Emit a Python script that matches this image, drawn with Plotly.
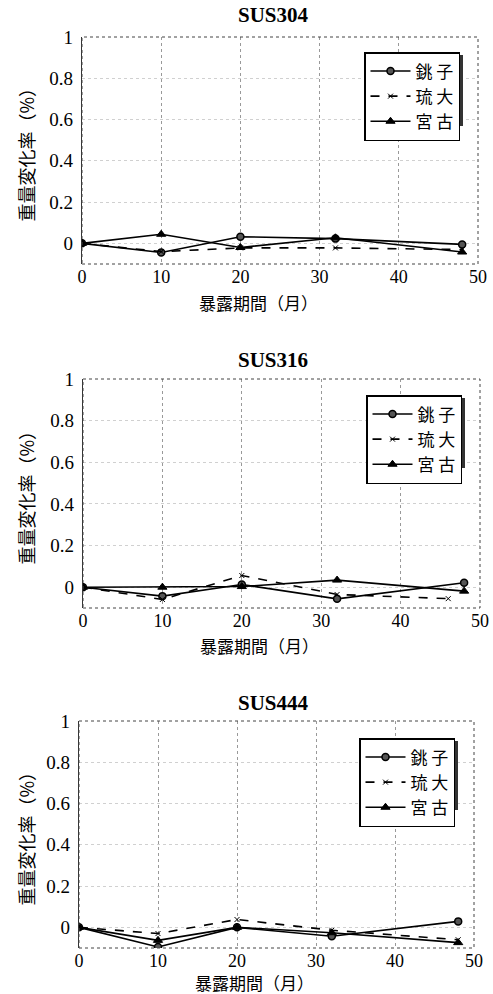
import plotly.graph_objects as go

W, H = 493, 994

months = [0, 10, 20, 32, 48]
months_316_ryudai = [0, 10, 20, 32, 46]

sus304_choshi = [0.0, -0.044, 0.032, 0.023, -0.005]
sus304_ryudai = [0.0, -0.040, -0.022, -0.022, -0.030]
sus304_miyako = [0.0, 0.044, -0.020, 0.027, -0.042]

sus316_choshi = [0.0, -0.043, 0.013, -0.056, 0.021]
sus316_ryudai = [0.0, -0.059, 0.056, -0.035, -0.055]
sus316_miyako = [0.0, 0.0, 0.003, 0.034, -0.019]

sus444_choshi = [0.0, -0.095, 0.0, -0.043, 0.029]
sus444_ryudai = [0.0, -0.030, 0.038, -0.014, -0.060]
sus444_miyako = [0.0, -0.063, 0.0, -0.026, -0.074]

titles = ["SUS304", "SUS316", "SUS444"]
series_names = ["銚 子", "琉 大", "宮 古"]
x_ticks = [0, 10, 20, 30, 40, 50]
y_ticks = [0, 0.2, 0.4, 0.6, 0.8, 1]
y_ticktext = ["0", "0.2", "0.4", "0.6", "0.8", "1"]
x_title = "暴露期間（月）"
y_title = "重量変化率（%）"

panels = [
    dict(x=[months, months, months], y=[sus304_choshi, sus304_ryudai, sus304_miyako],
         px=(82, 478), py=(37, 264), title_y=15, xt_y=302, legend=(460, 52, 362, 123)),
    dict(x=[months, months_316_ryudai, months], y=[sus316_choshi, sus316_ryudai, sus316_miyako],
         px=(83, 480), py=(379, 608), title_y=360, xt_y=645, legend=(462, 395, 363, 465)),
    dict(x=[months, months, months], y=[sus444_choshi, sus444_ryudai, sus444_miyako],
         px=(79, 474), py=(721, 948), title_y=703, xt_y=982, legend=(455, 738, 357, 807)),
]

SERIF = "Liberation Serif, Times New Roman, serif"
CJK = "Noto Sans CJK JP, Noto Sans, sans-serif"

styles = [
    dict(line=dict(color="black", width=1.6, dash="solid"),
         marker=dict(symbol="circle", size=7, color="#555", line=dict(color="black", width=1.5))),
    dict(line=dict(color="black", width=1.6, dash="dash"),
         marker=dict(symbol="x-thin-open", size=5, color="black", line=dict(color="black", width=1))),
    dict(line=dict(color="black", width=1.6, dash="solid"),
         marker=dict(symbol="triangle-up", size=8, color="black", line=dict(color="black", width=1))),
]

fig = go.Figure()
layout = dict(width=W, height=H, margin=dict(l=0, r=0, t=0, b=0, autoexpand=False),
              paper_bgcolor="white", plot_bgcolor="white", showlegend=True)
annotations = []
shapes = []

def fx(p):
    return p / W

def fy(p):
    return 1 - p / H

for i, pnl in enumerate(panels):
    n = "" if i == 0 else str(i + 1)
    xa, ya = "x" + n, "y" + n
    leg = "legend" + n
    for k in range(3):
        fig.add_trace(go.Scatter(
            x=pnl["x"][k], y=pnl["y"][k], name=series_names[k],
            mode="lines+markers", xaxis=xa, yaxis=ya, legend=leg,
            line=styles[k]["line"], marker=styles[k]["marker"]))
    x0, x1 = pnl["px"]
    y0, y1 = pnl["py"]
    layout["xaxis" + n] = dict(
        domain=[fx(x0), fx(x1)], range=[0, 50], anchor=ya, automargin=False,
        tickmode="array", tickvals=x_ticks, ticktext=[str(v) for v in x_ticks],
        tickfont=dict(family=SERIF, size=18, color="black"),
        showgrid=True, gridcolor="#999", griddash="dot", gridwidth=1,
        zeroline=False, showline=False, ticks="", ticklabelstandoff=0)
    layout["yaxis" + n] = dict(
        domain=[fy(y1), fy(y0)], range=[-0.1, 1.0], anchor=xa, automargin=False,
        tickmode="array", tickvals=y_ticks, ticktext=y_ticktext,
        tickfont=dict(family=SERIF, size=19, color="black"),
        showgrid=True, gridcolor="#d0d0d0", griddash="dot", gridwidth=1,
        zeroline=False, showline=True, linecolor="#333", linewidth=1.2,
        ticks="", ticklabelstandoff=4)
    # dotted box border
    shapes.append(dict(type="rect", xref=xa + " domain", yref=ya + " domain",
                       x0=0, x1=1, y0=0, y1=1, line=dict(color="#444", width=1, dash="dot"),
                       layer="above"))
    # titles
    annotations.append(dict(text="<b>" + titles[i] + "</b>", xref="paper", yref="paper",
                            x=fx(273), y=fy(pnl["title_y"]), showarrow=False,
                            font=dict(family=SERIF, size=21, color="black"),
                            xanchor="center", yanchor="middle"))
    annotations.append(dict(text=x_title, xref="paper", yref="paper",
                            x=fx((x0 + x1) / 2 - 22), y=fy(pnl["xt_y"]), showarrow=False,
                            font=dict(family=CJK, size=17, color="black"),
                            xanchor="center", yanchor="middle"))
    annotations.append(dict(text=y_title, xref="paper", yref="paper",
                            x=fx(25), y=fy((y0 + y1) / 2), showarrow=False, textangle=-90,
                            font=dict(family=CJK, size=18, color="black"),
                            xanchor="center", yanchor="middle"))
    lx1, ly0, lx0, ly1 = pnl["legend"]
    # legend shadow
    shapes.append(dict(type="rect", xref="paper", yref="paper",
                       x0=fx(lx0 + 3), x1=fx(lx1 + 3), y0=fy(ly1 + 3), y1=fy(ly0 + 3),
                       fillcolor="#333", line=dict(width=0), layer="above"))
    layout[leg] = dict(x=fx(lx1), y=fy(ly0), xanchor="right", yanchor="top",
                       bgcolor="white", bordercolor="black", borderwidth=1.5,
                       font=dict(family=CJK, size=17, color="black"),
                       tracegroupgap=0, itemwidth=40)

layout["annotations"] = annotations
layout["shapes"] = shapes
fig.update_layout(**layout)
fig.write_html("out.html")
